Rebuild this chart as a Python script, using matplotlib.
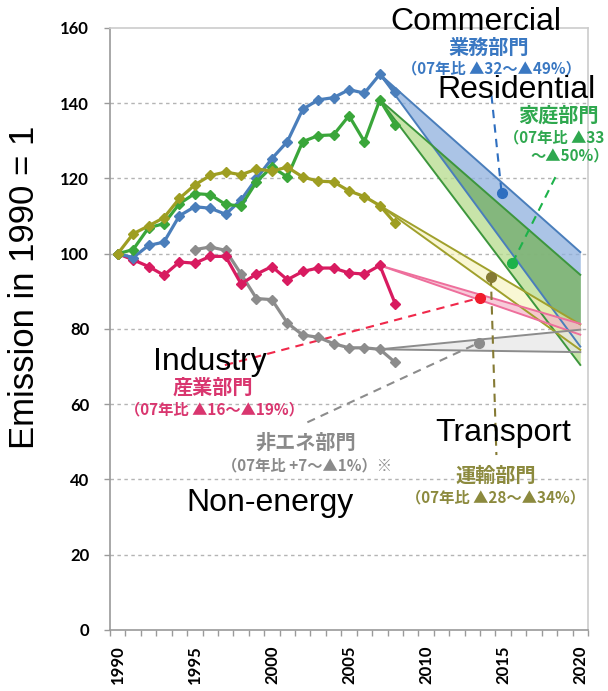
import numpy as np
import matplotlib
matplotlib.use("Agg")
import matplotlib.pyplot as plt
from matplotlib.ticker import FixedLocator

# ---- data -------------------------------------------------------------
years = list(range(1990, 2009))
commercial = [100, 99.0, 102.2, 103.1, 110.1, 112.5, 112.1, 110.5, 114.3, 120.0,
              125.3, 129.8, 138.4, 140.9, 141.5, 143.6, 142.7, 147.7, 143.1]
residential = [100, 101.1, 106.9, 108.0, 113.3, 116.0, 115.7, 113.1, 112.7, 119.1,
               123.1, 120.4, 129.8, 131.4, 131.6, 136.7, 129.8, 140.9, 134.2]
transport = [100, 105.3, 107.4, 109.6, 114.7, 118.3, 120.8, 121.7, 121.0, 122.5,
             122.0, 123.0, 120.4, 119.3, 119.1, 116.7, 115.2, 112.8, 108.1]
industry = [100, 98.4, 96.6, 94.3, 97.8, 97.5, 99.3, 99.3, 92.0, 94.6,
            96.6, 93.1, 95.3, 96.2, 96.2, 94.9, 94.6, 96.9, 86.7]
nonenergy_years = list(range(1995, 2009))
nonenergy = [101.1, 101.8, 100.9, 94.6, 88.1, 87.8, 81.6, 78.4, 77.8, 76.1,
             75.0, 75.0, 74.6, 71.1]

# 2020 targets as change versus 2007 (percent, low / high)
base_year, target_year = 2007, 2020
commercial_pct = (-32, -49)
residential_pct = (-33, -50)
industry_pct = (-16, -19)
nonenergy_pct = (7, -1)
transport_pct = (-28, -34)

# highlighted 2013-2015 estimates on each corridor
commercial_mark = (2014.9, 116.1)
residential_mark = (2015.6, 97.6)
industry_mark = (2013.5, 88.3)
transport_mark = (2014.2, 93.8)
nonenergy_mark = (2013.4, 76.3)

xtick_years = [1990, 1995, 2000, 2005, 2010, 2015, 2020]
ytick_values = [0, 20, 40, 60, 80, 100, 120, 140, 160]

# ---- styling ----------------------------------------------------------
W, H = 608, 691
JP = ["Noto Sans CJK JP", "DejaVu Sans"]
EN = ["Liberation Sans", "DejaVu Sans"]
TICK = ["Lato", "DejaVu Sans"]

C_BLUE, C_GREEN, C_OLIVE, C_RED, C_GRAY = "#4a7ebb", "#3aa63a", "#9e9e22", "#d81b60", "#8c8c8c"

fig = plt.figure(figsize=(W / 100, H / 100), dpi=100)
ax = fig.add_axes([110 / W, 1 - 630 / H, (588 - 110) / W, (630 - 28) / H])
ax.set_xlim(1989.5, 2020.5)
ax.set_ylim(0, 160)

# grid and frame
ax.yaxis.set_major_locator(FixedLocator(ytick_values))
for v in ytick_values[1:-1]:
    ax.axhline(v, color="#b4b4b4", lw=1.0, ls=(0, (2.5, 2.5)), zorder=0)
for side, col in [("left", "#9a9a9a"), ("bottom", "#9a9a9a"),
                  ("top", "#cccccc"), ("right", "#cccccc")]:
    ax.spines[side].set_color(col)
    ax.spines[side].set_linewidth(1.2)

ax.xaxis.set_major_locator(FixedLocator(xtick_years))
ax.xaxis.set_minor_locator(FixedLocator(np.arange(1989.5, 2021, 1.0)))
ax.tick_params(axis="x", which="major", length=0, pad=11)
ax.tick_params(axis="x", which="minor", length=4, width=1, color="#9a9a9a", direction="out")
ax.tick_params(axis="y", which="major", length=4, width=1, color="#9a9a9a", direction="out", pad=11)
ax.set_xticklabels([str(y) for y in xtick_years], rotation=90, fontsize=12,
                   fontweight="bold", family=TICK, va="top")
ax.set_yticklabels([str(v) for v in ytick_values], fontsize=12,
                   fontweight="bold", family=TICK)

# ---- projection corridors 2007 -> 2020 --------------------------------
xg = np.linspace(base_year, target_year, 200)


def corridor(start, pct):
    ends = [start * (1 + p / 100.0) for p in pct]
    lines = [np.interp(xg, [base_year, target_year], [start, e]) for e in ends]
    return np.minimum(*lines), np.maximum(*lines)


c_lo, c_hi = corridor(commercial[-2], commercial_pct)
r_lo, r_hi = corridor(residential[-2], residential_pct)
t_lo, t_hi = corridor(transport[-2], transport_pct)
i_lo, i_hi = corridor(industry[-2], industry_pct)
n_lo, n_hi = corridor(nonenergy[-2], nonenergy_pct)

ax.fill_between(xg, c_lo, c_hi, color="#8fb0de", alpha=0.75, lw=0, zorder=1)
ax.fill_between(xg, r_lo, r_hi, color="#b6dc8c", alpha=0.75, lw=0, zorder=1.1)
ov_lo, ov_hi = np.maximum(c_lo, r_lo), np.minimum(c_hi, r_hi)
ax.fill_between(xg, ov_lo, ov_hi, where=ov_hi > ov_lo, color="#5f9f5f",
                alpha=0.55, lw=0, zorder=1.2)
ax.fill_between(xg, t_lo, t_hi, color="#f6f3b8", alpha=0.6, lw=0, zorder=1.3)
ax.fill_between(xg, i_lo, i_hi, color="#f4b6ca", alpha=0.7, lw=0, zorder=1.4)
ax.fill_between(xg, n_lo, n_hi, color="#e6e6e6", alpha=0.7, lw=0, zorder=1.4)

for lo, hi, col in [(c_lo, c_hi, C_BLUE), (r_lo, r_hi, "#3d963d"),
                    (t_lo, t_hi, "#a0a02c"), (i_lo, i_hi, "#ee6f9c"),
                    (n_lo, n_hi, "#8c8c8c")]:
    ax.plot(xg, lo, color=col, lw=1.4, zorder=2)
    ax.plot(xg, hi, color=col, lw=1.4, zorder=2)

# ---- historical series ------------------------------------------------
mk = dict(marker="D", ms=5.5, lw=2.3, zorder=5)
ax.plot(nonenergy_years, nonenergy, color=C_GRAY, **mk)
ax.plot(years, industry, color=C_RED, **mk)
ax.plot(years, commercial, color=C_BLUE, **mk)
ax.plot(years, residential, color=C_GREEN, **mk)
ax.plot(years, transport, color=C_OLIVE, **mk)

# ---- dashed leaders and marker dots -----------------------------------
dash = (0, (4, 3))
leaders = [
    ((2014.24, 142.1), commercial_mark, "#2f6fc0"),
    (residential_mark, (2018.55, 121.7), "#1db24a"),
    ((1996.95, 70.4), industry_mark, "#f0284a"),
    (transport_mark, (2014.56, 46.5), "#857a34"),
    ((2002.3, 55.2), nonenergy_mark, "#8c8c8c"),
]
for (x0, y0), (x1, y1), col in leaders:
    ax.plot([x0, x1], [y0, y1], color=col, lw=1.5, ls=dash, zorder=3)
for (x, y), col in [(commercial_mark, "#2f6fc0"), (residential_mark, "#1db24a"),
                    (industry_mark, "#f01c2c"), (transport_mark, "#857a34"),
                    (nonenergy_mark, "#8c8c8c")]:
    ax.plot([x], [y], "o", color=col, ms=7, zorder=6)


# ---- text -------------------------------------------------------------
def ftext(px, py, s, **kw):
    fig.text(px / W, 1 - py / H, s, **kw)


def pct_text(pct):
    def one(p):
        return ("+%d" % p) if p > 0 else ("▲%d" % -p)
    return "%s～%s%%" % (one(pct[0]), one(pct[1]))


ftext(25, 287, "Emission in 1990 = 1", rotation=90, fontsize=25, family=EN,
      ha="center", va="center")

en = dict(fontsize=23, family=EN, ha="center", va="center", color="black", zorder=10)
ftext(476, 22, "Commercial", **en)
ftext(516, 90, "Residential", **en)
ftext(210, 362, "Industry", **en)
ftext(270, 503, "Non-energy", **en)
ftext(503, 433, "Transport", **en)

jp_big = dict(fontsize=14.5, family=JP, fontweight="bold", va="center")
jp_small = dict(fontsize=11, family=JP, fontweight="bold", va="center")

ftext(489, 47, "業務部門", color="#3a78c2", ha="center", **jp_big)
ftext(491, 68, "（07年比 " + pct_text(commercial_pct) + "）", color="#3a78c2",
      ha="center", **jp_small)

C_RES_TXT = "#2fa84f"
ftext(518, 115, "家庭部門", color=C_RES_TXT, ha="left", **jp_big)
res_parts = pct_text(residential_pct).split("～")
ftext(504, 137, "（07年比 " + res_parts[0], color=C_RES_TXT, ha="left", **jp_small)
ftext(530, 155, "～" + res_parts[1] + "）", color=C_RES_TXT, ha="left", **jp_small)

ftext(213, 387, "産業部門", color="#d9366f", ha="center", **jp_big)
ftext(214, 409, "（07年比 " + pct_text(industry_pct) + "）", color="#d9366f",
      ha="center", **jp_small)

ftext(306, 442, "非エネ部門", color="#8a8a8a", ha="center", **jp_big)
ftext(307, 465, "（07年比 " + pct_text(nonenergy_pct) + "）※", color="#8a8a8a",
      ha="center", **jp_small)

ftext(496, 475, "運輸部門", color="#8c8a3e", ha="center", **jp_big)
ftext(496, 497, "（07年比 " + pct_text(transport_pct) + "）", color="#8c8a3e",
      ha="center", **jp_small)

fig.savefig("out.png", dpi=100)
